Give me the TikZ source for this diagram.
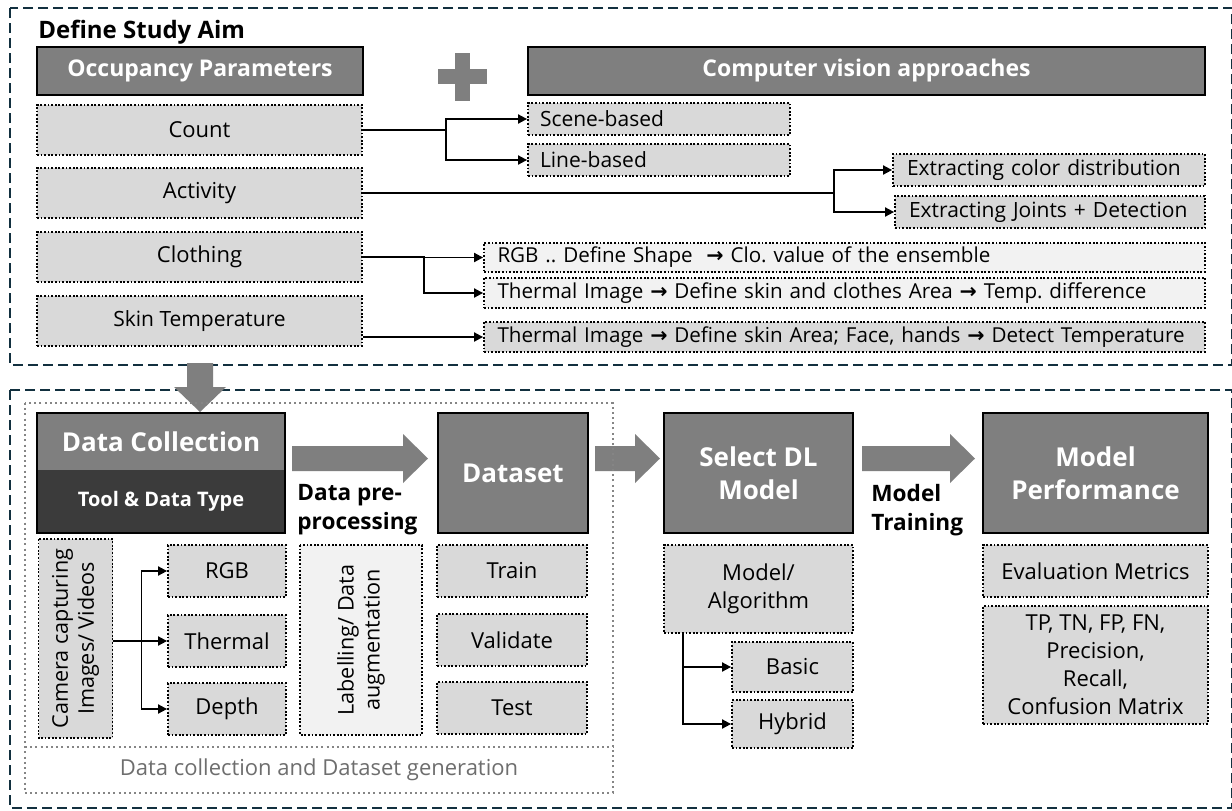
\documentclass[tikz,border=0pt]{standalone}
\usepackage{fontspec}
\setmainfont{Open Sans}
\newfontfamily\dejavu{DejaVu Sans}
\newcommand{\myarr}{{\dejavu\bfseries →}}
\usetikzlibrary{arrows.meta}
\definecolor{hdrc}{HTML}{7F7F7F}
\definecolor{dkc}{HTML}{3B3B3B}
\definecolor{ltc}{HTML}{D9D9D9}
\definecolor{vltc}{HTML}{F2F2F2}
\definecolor{navyc}{HTML}{12303F}
\definecolor{dotc}{HTML}{858585}
\definecolor{capc}{HTML}{6E6E6E}
\frenchspacing
% box by corners (pixel coordinates): style, name, x1, y1, x2, y2, text
\newcommand{\bx}[7]{%
  \pgfmathsetmacro\bxw{(#5-#3)/2}%
  \pgfmathsetmacro\bxh{(#6-#4)/2}%
  \node[#1, minimum width=\bxw pt, minimum height=\bxh pt] (#2) at ({(#3+#5)/2},{(#4+#6)/2}) {#7};}
\begin{document}
\begin{tikzpicture}[x=0.5pt,y=-0.5pt,
 hdr/.style={draw=black, line width=1.1pt, fill=hdrc, inner sep=0pt, text=white, font=\bfseries\fontsize{11.5}{13}\selectfont},
 bighdr/.style={hdr, font=\bfseries\fontsize{13}{16.5}\selectfont, align=center},
 opt/.style={draw=black, line width=0.9pt, dash pattern=on 0.9pt off 0.9pt, fill=ltc, inner sep=0pt, font=\fontsize{11}{14}\selectfont, align=center},
 optl/.style={opt, align=left, font=\fontsize{10.5}{12}\selectfont},
 conn/.style={draw=black, line width=0.9pt, -{Triangle[length=4.5pt,width=4.5pt]}},
 outerbox/.style={draw=navyc, line width=1.4pt, dash pattern=on 5pt off 2.5pt},
 innerbox/.style={draw=dotc, line width=0.9pt, dash pattern=on 1pt off 1.6pt},
 lab/.style={font=\bfseries\fontsize{11.3}{14.5}\selectfont, align=left, inner sep=0pt, anchor=north west}
]
\useasboundingbox (0,0) rectangle (1232,810);
\fill[white] (0,0) rectangle (1232,810);

% ---------- top section ----------
\draw[outerbox] (10,8) rectangle (1232,365);
\node[anchor=base west, inner sep=0pt, font=\bfseries\fontsize{12}{14}\selectfont] (title) at (38,38) {Define Study Aim};
\bx{hdr}{occ}{37}{47}{363}{95}{Occupancy Parameters}
\bx{hdr}{cv}{528}{47}{1205}{95}{Computer vision approaches}
\fill[hdrc] (455,53) rectangle (470,101);
\fill[hdrc] (438,69) rectangle (487,84);

\bx{opt}{count}{37}{105}{362}{155}{Count}
\bx{opt}{activity}{37}{168}{362}{218}{Activity}
\bx{opt}{clothing}{37}{232}{362}{282}{Clothing}
\bx{opt, font=\fontsize{10.5}{12}\selectfont}{skin}{37}{296}{362}{346}{Skin Temperature}

\bx{optl, text width=119pt}{scene}{528}{103}{790}{135}{Scene-based}
\bx{optl, text width=119pt}{lineb}{528}{144}{790}{176}{Line-based}
\bx{optl, text width=142pt}{color}{893}{154}{1205}{186}{Extracting color distribution}
\bx{optl, text width=141pt}{joints}{895}{196}{1205}{228}{Extracting Joints + Detection}
\bx{optl, fill=vltc, text width=347pt, font=\fontsize{10.3}{12}\selectfont}{rgbc}{484}{243}{1205}{272}{RGB .. Define Shape~ \myarr\ Clo. value of the ensemble}
\bx{optl, fill=vltc, text width=347pt, font=\fontsize{10.3}{12}\selectfont}{thermc}{484}{278}{1205}{308}{Thermal Image \myarr\ Define skin and clothes Area \myarr\ Temp. difference}
\bx{optl, text width=347pt, font=\fontsize{10.3}{12}\selectfont}{skinb}{484}{322}{1205}{352}{Thermal Image \myarr\ Define skin Area; Face, hands \myarr\ Detect Temperature}

\draw[conn] (count.east) -- ++(83,0) |- (scene.west);
\draw[conn] (count.east) -- ++(83,0) |- (lineb.west);
\draw[conn] (activity.east) -- ++(471,0) |- (color.west);
\draw[conn] (activity.east) -- ++(471,0) |- (joints.west);
\draw[conn] (clothing.east) -- ++(61,0) |- (rgbc.west);
\draw[conn] (clothing.east) -- ++(61,0) |- (thermc.west);
\draw[conn] (skinb.west -| skin.east) -- (skinb.west);

% ---------- bottom section ----------
\draw[outerbox] (10,390) rectangle (1232,808);

\bx{fill=hdrc, inner sep=0pt, text=white, font=\bfseries\fontsize{13}{15}\selectfont}{dctop}{37}{413}{285}{470}{Data Collection}
\bx{fill=dkc, inner sep=0pt, text=white, font=\bfseries\fontsize{10}{12}\selectfont}{dcbot}{37}{470}{285}{533}{Tool \& Data Type}
\bx{draw=black, line width=1.1pt, inner sep=0pt}{dc}{37}{413}{285}{533}{}

% block arrows
\fill[hdrc] (187,363) -- (213,363) -- (213,387) -- (226,387) -- (200,412) -- (174,387) -- (187,387) -- cycle;
\fill[hdrc] (292,446) -- (403,446) -- (403,434) -- (428,458.5) -- (403,483) -- (403,471) -- (292,471) -- cycle;
\fill[hdrc] (595,446) -- (635,446) -- (635,434) -- (660,458.5) -- (635,483) -- (635,471) -- (595,471) -- cycle;
\fill[hdrc] (862,446) -- (950,446) -- (950,434) -- (975,458.5) -- (950,483) -- (950,471) -- (862,471) -- cycle;

\node[lab] (dpp) at (297,484) {Data pre-\\processing};
\node[lab] (mtr) at (871,484) {Model\\Training};

\node[opt, rotate=90, minimum width=99.5pt, minimum height=37pt, font=\fontsize{10.8}{13}\selectfont] (cam) at (75.5,638.5) {Camera capturing\\Images/ Videos};
\bx{opt}{rgb}{168}{545}{286}{597}{RGB}
\bx{opt}{thermal}{168}{615}{286}{667}{Thermal}
\bx{opt}{depth}{168}{683}{286}{735}{Depth}
\draw[conn] (thermal.west -| cam.south) -- ++(28,0) |- (rgb.west);
\draw[conn] (thermal.west -| cam.south) -- (thermal.west);
\draw[conn] (thermal.west -| cam.south) -- ++(28,0) |- (depth.west);

\node[opt, fill=vltc, rotate=90, minimum width=95pt, minimum height=61pt, font=\fontsize{10.8}{13}\selectfont] (label) at (361,640) {Labelling/ Data\\augmentation};

\bx{bighdr}{dataset}{438}{413}{588}{533}{Dataset}
\bx{opt}{train}{437}{545}{587}{597}{Train}
\bx{opt}{validate}{437}{614}{587}{666}{Validate}
\bx{opt}{test}{437}{682}{587}{734}{Test}

\draw[innerbox] (25,403) rectangle (613,793);
\draw[innerbox] (25,747) -- (613,747);
\node[text=capc, font=\fontsize{11}{13}\selectfont] (dcdg) at (319,770) {Data collection and Dataset generation};

\bx{bighdr}{select}{664}{413}{853}{533}{Select DL\\Model}
\bx{opt}{model}{664}{545}{853}{633}{Model/\\Algorithm}
\bx{opt}{basic}{732}{642}{853}{692}{Basic}
\bx{opt}{hybrid}{732}{700}{853}{748}{Hybrid}
\draw[conn] (model.south west) ++(20,0) |- (basic.west);
\draw[conn] (model.south west) ++(20,0) |- (hybrid.west);

\bx{bighdr}{perf}{983}{413}{1208}{533}{Model\\Performance}
\bx{opt}{eval}{983}{545}{1208}{597}{Evaluation Metrics}
\bx{opt}{tp}{983}{606}{1208}{724}{TP, TN, FP, FN,\\Precision,\\Recall,\\Confusion Matrix}
\end{tikzpicture}
\end{document}
